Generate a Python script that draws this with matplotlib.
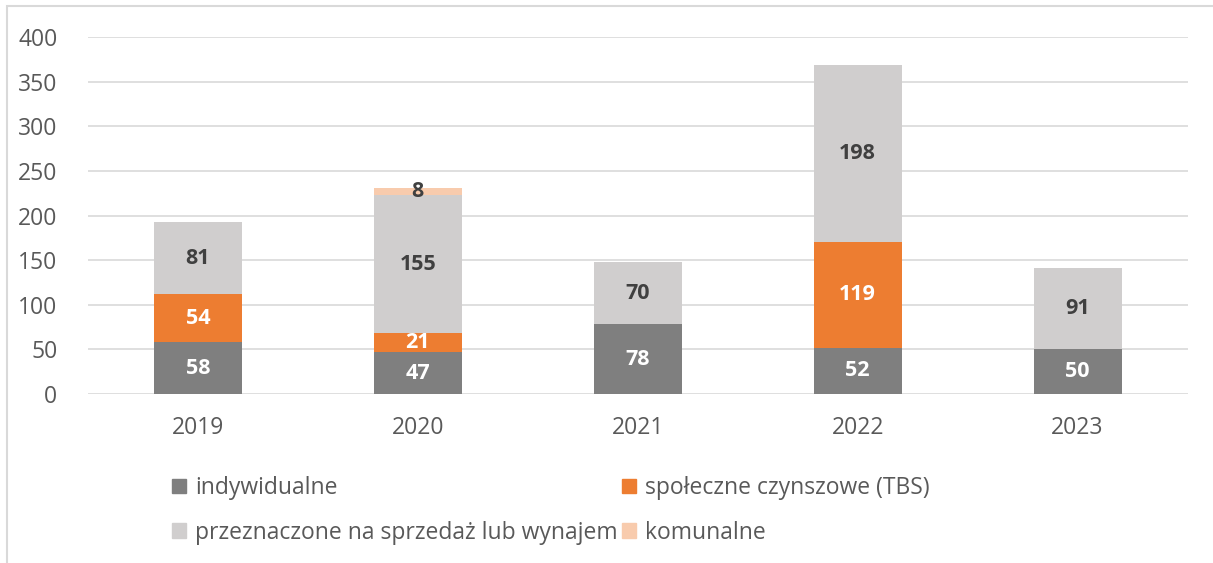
import matplotlib.pyplot as plt
import numpy as np
from matplotlib.patches import Rectangle, Patch

plt.rcParams['font.family'] = ['Open Sans', 'DejaVu Sans']

# dane
years = ['2019', '2020', '2021', '2022', '2023']
indywidualne = [58, 47, 78, 52, 50]
tbs = [54, 21, 0, 119, 0]
sprzedaz = [81, 155, 70, 198, 91]
komunalne = [0, 8, 0, 0, 0]

series = [
    ('indywidualne', indywidualne, '#7f7f7f', 'white'),
    ('społeczne czynszowe (TBS)', tbs, '#ed7d31', 'white'),
    ('przeznaczone na sprzedaż lub wynajem', sprzedaz, '#d0cece', '#404040'),
    ('komunalne', komunalne, '#f8cbad', '#404040'),
]

fig = plt.figure(figsize=(12.13, 5.63), dpi=100)
ax = fig.add_axes([0.0725, 0.300, 0.9065, 0.634])

x = np.arange(len(years))
bottom = np.zeros(len(years))
for name, vals, color, tcol in series:
    vals = np.array(vals, dtype=float)
    ax.bar(x, vals, 0.4, bottom=bottom, color=color, zorder=2)
    for xi, b, v in zip(x, bottom, vals):
        if v > 0:
            ax.text(xi, b + v / 2, str(int(v)), ha='center', va='center',
                    fontsize=15.5, fontweight='bold', color=tcol, zorder=3)
    bottom += vals

ax.set_xlim(-0.5, 4.5)
ax.set_ylim(0, 400)
ax.set_yticks(range(0, 401, 50))
ax.set_xticks(x)
ax.set_xticklabels(years)
ax.tick_params(length=0, labelsize=16.5, colors='#595959')
ax.tick_params(axis='x', pad=16)
ax.tick_params(axis='y', pad=22)
ax.grid(axis='y', color='#d9d9d9', linewidth=1.2, zorder=0)
for s in ax.spines.values():
    s.set_visible(False)

# legenda wierszami: kolejnosc dla ncol=2
order = [0, 2, 1, 3]
handles = [Patch(color=series[i][2]) for i in order]
labels = [series[i][0] for i in order]
fig.legend(handles, labels, ncol=2, loc='upper left', bbox_to_anchor=(0.125, 0.191),
           frameon=False, fontsize=16.5, labelcolor='#595959', handlelength=0.6,
           handleheight=0.6, handletextpad=0.4, columnspacing=0.2, labelspacing=0.9)

# ramka wykresu
fig.patches.append(Rectangle((7 / 1213, -0.1), 1.2, (563 - 6) / 563 + 0.1,
                             transform=fig.transFigure, fill=False,
                             edgecolor='#d9d9d9', linewidth=1.5))

fig.savefig('out.png', dpi=100)
